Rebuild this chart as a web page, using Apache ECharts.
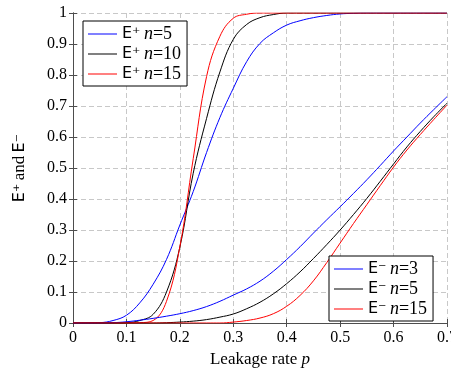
<!DOCTYPE html>
<html>
<head>
<meta charset="utf-8">
<script src="https://cdn.jsdelivr.net/npm/echarts@6/dist/echarts.min.js"></script>
<style>
  html, body { margin: 0; padding: 0; background: #fff; }
  #chart { width: 451px; height: 370px; }
</style>
</head>
<body>
<div id="chart"></div>
<script>
// leakage rate p
const pValues = [0, 0.025, 0.05, 0.075, 0.1, 0.125, 0.15, 0.175, 0.2, 0.225, 0.25, 0.275, 0.3, 0.325, 0.35,
  0.375, 0.4, 0.425, 0.45, 0.475, 0.5, 0.525, 0.55, 0.575, 0.6, 0.625, 0.65, 0.675, 0.7];

const ePlus5 = [0, 0, 0.001, 0.008, 0.025, 0.065, 0.125, 0.205, 0.316, 0.424, 0.55, 0.663, 0.757, 0.843, 0.902,
  0.936, 0.961, 0.975, 0.985, 0.992, 0.997, 0.999, 1, 1, 1, 1, 1, 1, 1];
const ePlus10 = [0, 0, 0, 0, 0.001, 0.008, 0.028, 0.1, 0.245, 0.483, 0.66, 0.81, 0.915, 0.963, 0.985,
  0.995, 1, 1, 1, 1, 1, 1, 1, 1, 1, 1, 1, 1, 1];
const ePlus15 = [0, 0, 0, 0, 0, 0.001, 0.008, 0.07, 0.246, 0.53, 0.795, 0.925, 0.983, 0.996, 1,
  1, 1, 1, 1, 1, 1, 1, 1, 1, 1, 1, 1, 1, 1];

const eMinus3 = [0, 0, 0, 0.001, 0.004, 0.009, 0.015, 0.022, 0.03, 0.04, 0.053, 0.07, 0.09, 0.11, 0.135,
  0.167, 0.205, 0.246, 0.29, 0.333, 0.375, 0.418, 0.462, 0.508, 0.555, 0.6, 0.645, 0.688, 0.73];
const eMinus5 = [0, 0, 0, 0, 0, 0, 0, 0.001, 0.003, 0.006, 0.011, 0.019, 0.029, 0.046, 0.067,
  0.094, 0.127, 0.165, 0.208, 0.253, 0.3, 0.35, 0.402, 0.457, 0.513, 0.568, 0.618, 0.665, 0.709];
const eMinus15 = [0, 0, 0, 0, 0, 0, 0, 0, 0, 0, 0, 0, 0.003, 0.008, 0.016,
  0.03, 0.054, 0.089, 0.136, 0.195, 0.258, 0.321, 0.382, 0.443, 0.503, 0.558, 0.608, 0.656, 0.703];

const xTicks = ['0', '0.1', '0.2', '0.3', '0.4', '0.5', '0.6', '0.7'];
const yTicks = ['0', '0.1', '0.2', '0.3', '0.4', '0.5', '0.6', '0.7', '0.8', '0.9', '1'];

const plusNames = ['E+ n=5', 'E+ n=10', 'E+ n=15'];
const minusNames = ['E- n=3', 'E- n=5', 'E- n=15'];

const serif = 'Liberation Serif';
const sans = 'DejaVu Sans';

const richText = {
  s: { fontFamily: sans, fontSize: 16, color: '#000', lineHeight: 16 },
  i: { fontFamily: serif, fontStyle: 'italic', fontSize: 18, color: '#000', lineHeight: 16 },
  r: { fontFamily: serif, fontSize: 18, color: '#000', lineHeight: 16 }
};

const nameRich = {
  s: { fontFamily: sans, fontSize: 16, color: '#000' },
  i: { fontFamily: serif, fontStyle: 'italic', fontSize: 17, color: '#000' },
  r: { fontFamily: serif, fontSize: 17, color: '#000' }
};

function legendLabel(name) {
  const sign = name.charAt(1) === '+' ? '\u207A' : '\u207B';
  const n = name.split('=')[1];
  return '{s|E' + sign + '} {i|n}{r|=' + n + '}';
}

function pairs(vals) {
  return pValues.map((p, i) => [p, vals[i]]);
}

const chart = echarts.init(document.getElementById('chart'));

function lineSeries(name, vals, color) {
  return {
    name: name,
    type: 'line',
    data: pairs(vals),
    symbol: 'none',
    smooth: 0.4,
    itemStyle: { color: color },
    lineStyle: { color: color, width: 1 },
    z: 3
  };
}

const frameColor = '#4d4d4d';

function legendBox(names, left, top) {
  return {
    data: names,
    orient: 'vertical',
    left: left,
    top: top,
    icon: 'rect',
    itemWidth: 29,
    itemHeight: 1,
    itemGap: 2,
    padding: [4, 6, 3, 5],
    borderColor: '#000',
    borderWidth: 1,
    borderRadius: 0,
    backgroundColor: '#fff',
    formatter: legendLabel,
    textStyle: { rich: richText }
  };
}

const option = {
  animation: false,
  backgroundColor: '#fff',
  grid: { left: 73, right: 4, top: 13, bottom: 47, show: false, outerBoundsMode: 'none', containLabel: false },
  legend: [
    legendBox(plusNames, 83, 21),
    legendBox(minusNames, 329, 256)
  ],
  xAxis: [
    {
      type: 'value',
      min: 0,
      max: 0.7,
      interval: 0.1,
      position: 'bottom',
      name: '{r|Leakage rate }{i|p}',
      nameLocation: 'middle',
      nameGap: 27,
      nameTextStyle: { rich: nameRich },
      axisLine: { show: true, lineStyle: { color: frameColor, width: 1 } },
      axisTick: { show: true, inside: true, length: 4, lineStyle: { color: frameColor } },
      axisLabel: {
        fontFamily: serif, fontSize: 16, color: '#000', margin: 7,
        formatter: v => xTicks[Math.round(v * 10)]
      },
      splitLine: { show: true, lineStyle: { color: '#c8c8c8', type: [5, 3], width: 1 } }
    },
    {
      type: 'value',
      min: 0,
      max: 0.7,
      interval: 0.1,
      position: 'top',
      axisLine: { show: true, lineStyle: { color: frameColor, width: 1 } },
      axisTick: { show: true, inside: true, length: 4, lineStyle: { color: frameColor } },
      axisLabel: { show: false },
      splitLine: { show: false }
    }
  ],
  yAxis: [
    {
      type: 'value',
      min: 0,
      max: 1,
      interval: 0.1,
      position: 'left',
      name: '{s|E\u207A} {r|and} {s|E\u207B}',
      nameLocation: 'middle',
      nameRotate: 90,
      nameGap: 45,
      nameTextStyle: { rich: nameRich },
      axisLine: { show: true, lineStyle: { color: frameColor, width: 1 } },
      axisTick: { show: true, inside: true, length: 4, lineStyle: { color: frameColor } },
      axisLabel: {
        fontFamily: serif, fontSize: 16, color: '#000', margin: 6,
        formatter: v => yTicks[Math.round(v * 10)]
      },
      splitLine: { show: true, lineStyle: { color: '#c8c8c8', type: [5, 3], width: 1 } }
    },
    {
      type: 'value',
      min: 0,
      max: 1,
      interval: 0.1,
      position: 'right',
      axisLine: { show: true, lineStyle: { color: frameColor, width: 1 } },
      axisTick: { show: true, inside: true, length: 4, lineStyle: { color: frameColor } },
      axisLabel: { show: false },
      splitLine: { show: false }
    }
  ],
  series: [
    lineSeries(plusNames[0], ePlus5, '#0000ff'),
    lineSeries(plusNames[1], ePlus10, '#000000'),
    lineSeries(plusNames[2], ePlus15, '#ff0000'),
    lineSeries(minusNames[0], eMinus3, '#0000ff'),
    lineSeries(minusNames[1], eMinus5, '#000000'),
    lineSeries(minusNames[2], eMinus15, '#ff0000')
  ]
};

chart.setOption(option);
</script>
</body>
</html>
